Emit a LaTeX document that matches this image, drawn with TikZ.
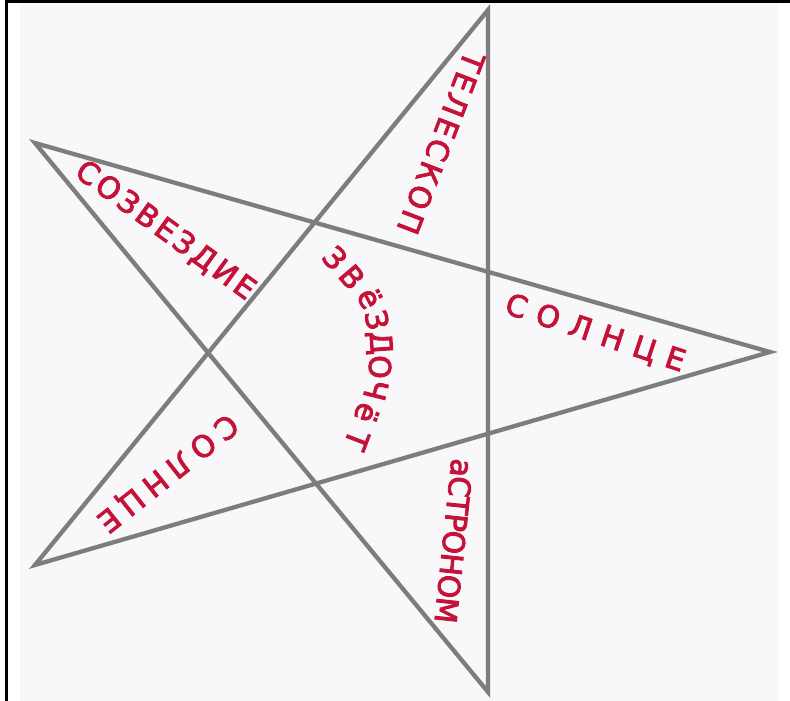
\documentclass[tikz,border=0pt]{standalone}
\usepackage{fontspec}
\newfontfamily\handfont[FakeBold=3]{DejaVu Sans}
\definecolor{paper}{RGB}{248,248,251}
\definecolor{stargray}{RGB}{125,125,127}
\definecolor{inkred}{RGB}{196,18,56}
\begin{document}
\begin{tikzpicture}[x=1pt,y=-1pt,
  starline/.style={draw=stargray, line width=4.3pt, line join=miter, miter limit=20},
  lettering/.style={text=inkred, inner sep=0pt,
    font=\handfont\fontsize{30}{32}\selectfont\addfontfeature{LetterSpace=#1}},
  zvletter/.style={text=inkred, inner sep=0pt, font=\handfont\fontsize{30}{32}\selectfont},
  frameline/.style={draw=black, line width=#1}]
\useasboundingbox (0,0) rectangle (790,701);
\fill[white] (0,0) rectangle (790,701);
% outer frame
\coordinate (f1) at (5,1.5);
\coordinate (f2) at (790,1.5);
\coordinate (f3) at (6.5,0);
\coordinate (f4) at (6.5,701);
\draw[frameline=2.5pt] (f1) -- (f2);
\draw[frameline=3pt] (f3) -- (f4);
% paper
\fill[paper] (20,3) rectangle (778,701);
% star vertices
\coordinate (T) at (488,10);
\coordinate (LT) at (35,143);
\coordinate (R) at (770,352);
\coordinate (LB) at (35,565);
\coordinate (B) at (488,692);
\draw[starline] (T) -- (LB) -- (R) -- (LT) -- (B) -- cycle;
% words
\node[lettering=12, rotate=-111] (teleskop) at (441,143) {ТЕЛЕСКОП};
\node[lettering=11, rotate=-36] (sozvezdie) at (165,231) {СОЗВЕЗДИЕ};
\node[lettering=37, rotate=-18.4] (solnceR) at (595,334) {СОЛНЦЕ};
\node[lettering=25, rotate=-141.6] (solnceL) at (167,472) {СОЛНЦЕ};
\node[lettering=-3, rotate=-96] (astronom) at (454,541) {аСТРОНОМ};
% curved word
\foreach \c/\x/\y/\a [count=\i] in {З/335/258/-48, В/352/277/-50, ё/370/298/-62, З/377/320/-78, Д/379/343/-86, О/380/367/-93, Ч/376/390/-104, ё/367/413/-110, Т/357/440/-111}
  \node[zvletter, rotate=\a] (zv\i) at (\x,\y) {\c};
\end{tikzpicture}
\end{document}
